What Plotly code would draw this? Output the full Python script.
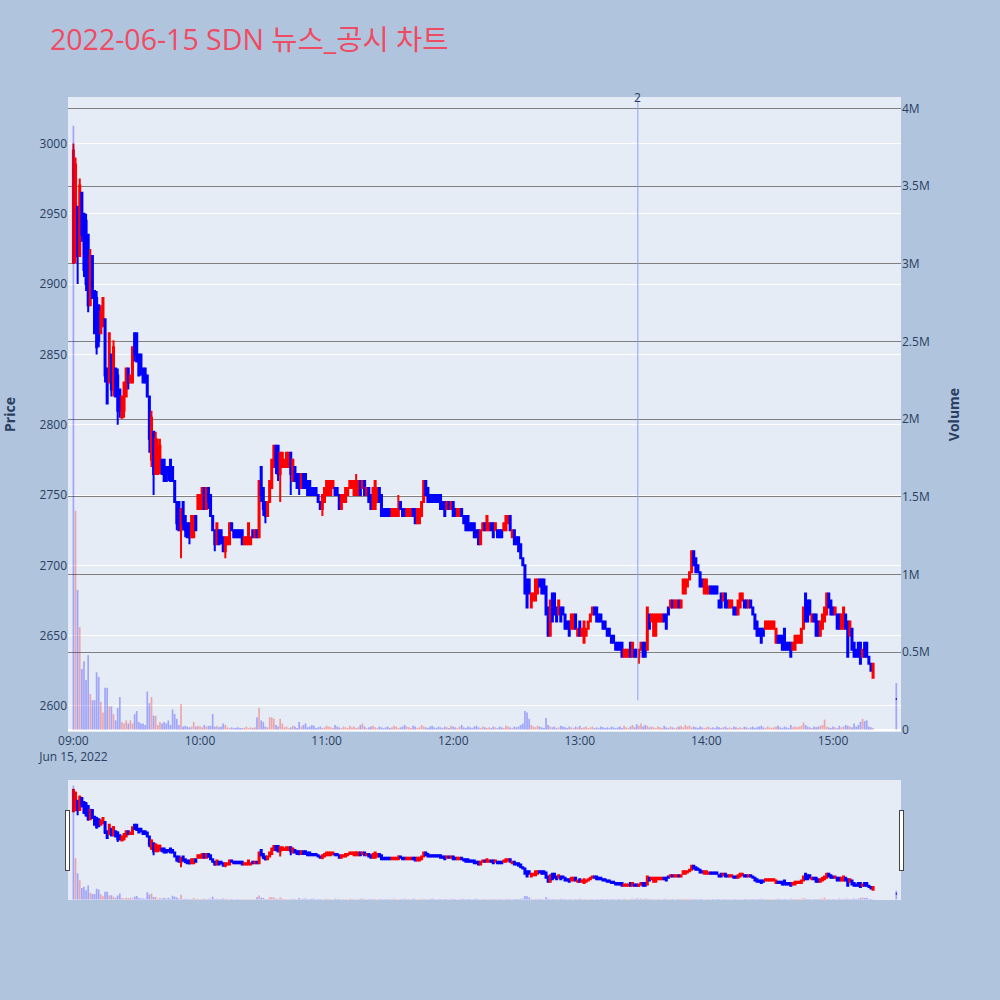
import pandas as pd
import plotly.graph_objects as go
from plotly.subplots import make_subplots

# ---------------- data (1-minute bars, 2022-06-15) ----------------
opens = [
    # 09:00 - 10:36
    2915,2920,2955,2920,2965,2950,2945,2935,2885,2920,
    2895,2890,2885,2865,2870,2875,2840,2830,2850,2825,
    2840,2835,2825,2805,2810,2820,2840,2830,2830,2865,
    2865,2850,2850,2840,2840,2835,2820,2775,2795,2765,
    2765,2770,2775,2775,2770,2770,2775,2770,2760,2745,
    2745,2725,2745,2735,2730,2730,2720,2720,2735,2740,
    2740,2740,2755,2740,2755,2750,2735,2725,2715,2725,
    2725,2720,2710,2715,2715,2730,2725,2725,2725,2725,
    2725,2715,2715,2715,2715,2725,2720,2725,2720,2770,
    2755,2745,2735,2745,2755,2770,2785,
    # 10:37 - 12:16
    2785,2765,2770,2770,2770,2770,2780,2760,2770,2765,
    2765,2755,2765,2765,2760,2760,2755,2755,2755,2750,
    2745,2740,2745,2750,2750,2750,2755,2755,2755,2750,
    2740,2745,2745,2750,2755,2755,2750,2750,2750,2760,
    2755,2760,2750,2755,2750,2740,2740,2745,2755,2750,
    2740,2740,2740,2740,2735,2735,2735,2735,2745,2740,
    2740,2735,2735,2735,2740,2740,2730,2730,2735,2745,
    2760,2755,2750,2750,2750,2750,2750,2750,2745,2745,
    2740,2745,2740,2745,2740,2735,2735,2740,2735,2735,
    2735,2730,2730,2730,2725,2725,2715,2725,2730,2725,
    # 12:17 - 13:56
    2725,2730,2730,2725,2725,2725,2725,2725,2725,2730,
    2735,2720,2725,2720,2720,2715,2705,2700,2690,2690,
    2670,2675,2675,2680,2690,2690,2690,2685,2670,2650,
    2680,2680,2670,2665,2670,2670,2665,2660,2660,2655,
    2655,2665,2650,2660,2650,2645,2650,2655,2660,2665,
    2670,2670,2665,2665,2660,2660,2655,2655,2650,2650,
    2645,2645,2645,2645,2635,2635,2635,2645,2635,2640,
    2640,2635,2640,2645,2645,2640,2665,2660,2650,2650,
    2660,2660,2660,2665,2665,2670,2670,2675,2670,2670,
    2675,2670,2680,2680,2685,2690,2695,2710,2705,2700,
    # 13:57 - 15:19
    2695,2690,2680,2680,2680,2685,2685,2685,2685,2675,
    2680,2675,2680,2675,2670,2670,2670,2670,2665,2670,
    2675,2675,2675,2670,2675,2670,2665,2660,2655,2655,
    2655,2655,2655,2655,2655,2655,2645,2650,2650,2650,
    2655,2645,2645,2645,2640,2640,2645,2645,2645,2655,
    2680,2675,2675,2660,2665,2665,2660,2650,2655,2660,
    2665,2680,2675,2670,2665,2665,2665,2655,2655,2665,
    2660,2650,2655,2645,2640,2645,2645,2635,2645,2645,
    2635,2630,2620,
    # 15:30 closing auction
    2605,
]
highs = [
    3000,2990,2955,2975,2965,2950,2950,2935,2925,2920,
    2895,2895,2885,2885,2890,2875,2840,2865,2850,2860,
    2840,2840,2825,2820,2830,2840,2840,2835,2855,2865,
    2865,2850,2850,2840,2840,2835,2820,2810,2795,2795,
    2790,2790,2775,2775,2770,2770,2775,2770,2760,2745,
    2745,2740,2745,2735,2730,2730,2735,2735,2735,2750,
    2750,2755,2755,2755,2755,2750,2735,2725,2730,2725,
    2725,2720,2720,2720,2730,2730,2725,2725,2725,2725,
    2725,2720,2720,2730,2720,2725,2725,2725,2760,2770,
    2755,2745,2745,2760,2775,2785,2785,
    2785,2780,2780,2775,2780,2780,2780,2775,2770,2765,
    2765,2765,2765,2765,2760,2760,2755,2755,2755,2750,
    2745,2750,2755,2760,2760,2760,2760,2755,2755,2750,
    2750,2750,2755,2755,2760,2760,2760,2765,2760,2760,
    2760,2760,2755,2755,2750,2755,2760,2755,2755,2750,
    2740,2740,2740,2740,2740,2740,2740,2750,2745,2740,
    2740,2740,2740,2740,2740,2740,2740,2740,2745,2760,
    2760,2755,2750,2750,2750,2750,2750,2750,2745,2745,
    2745,2745,2745,2745,2740,2740,2740,2740,2735,2735,
    2735,2730,2730,2730,2725,2725,2725,2730,2730,2735,
    2730,2730,2730,2730,2725,2725,2725,2730,2735,2735,
    2735,2725,2725,2720,2720,2715,2705,2700,2690,2690,
    2680,2680,2690,2690,2690,2690,2690,2685,2670,2675,
    2680,2680,2670,2675,2670,2670,2665,2660,2660,2665,
    2665,2665,2655,2660,2655,2660,2655,2660,2665,2670,
    2670,2670,2665,2665,2660,2660,2655,2655,2650,2650,
    2645,2645,2645,2645,2640,2640,2640,2645,2645,2640,
    2640,2640,2645,2645,2645,2670,2665,2665,2665,2665,
    2665,2665,2665,2665,2665,2670,2675,2675,2675,2675,
    2675,2675,2690,2690,2690,2695,2710,2710,2705,2700,
    2695,2690,2690,2690,2685,2685,2685,2685,2685,2675,
    2680,2680,2680,2675,2675,2675,2670,2670,2675,2680,
    2680,2675,2675,2675,2675,2670,2665,2660,2655,2655,
    2655,2660,2660,2660,2660,2660,2655,2650,2650,2650,
    2655,2645,2645,2645,2645,2650,2650,2650,2655,2670,
    2680,2675,2675,2665,2665,2665,2660,2660,2665,2670,
    2680,2680,2675,2670,2670,2665,2665,2665,2670,2665,
    2660,2660,2655,2645,2640,2645,2645,2640,2645,2645,
    2635,2630,2630,
    2605,
]
lows = [
    2915,2915,2900,2920,2930,2905,2895,2880,2885,2890,
    2865,2850,2855,2865,2870,2830,2815,2830,2820,2820,
    2820,2800,2805,2805,2805,2820,2825,2830,2830,2845,
    2845,2835,2835,2830,2830,2820,2780,2770,2750,2765,
    2765,2765,2765,2760,2760,2760,2760,2760,2745,2725,
    2725,2705,2725,2720,2720,2715,2720,2720,2725,2740,
    2740,2740,2740,2740,2740,2735,2725,2710,2715,2715,
    2715,2710,2705,2715,2715,2725,2720,2720,2720,2720,
    2715,2715,2715,2715,2715,2720,2720,2720,2720,2745,
    2735,2730,2735,2745,2755,2770,2765,
    2760,2745,2770,2770,2770,2770,2750,2760,2760,2755,
    2750,2755,2755,2755,2750,2750,2750,2750,2750,2745,
    2740,2735,2745,2750,2750,2750,2755,2750,2750,2740,
    2740,2745,2745,2750,2755,2755,2750,2750,2750,2750,
    2755,2750,2750,2745,2740,2740,2740,2745,2745,2735,
    2735,2735,2735,2735,2735,2735,2735,2735,2740,2735,
    2735,2735,2735,2735,2735,2730,2730,2730,2735,2745,
    2750,2745,2745,2745,2745,2745,2745,2740,2740,2735,
    2740,2740,2740,2735,2735,2735,2735,2735,2730,2725,
    2725,2725,2725,2720,2720,2715,2715,2725,2725,2725,
    2725,2725,2720,2725,2720,2720,2720,2725,2725,2730,
    2725,2720,2715,2715,2710,2705,2700,2680,2670,2680,
    2670,2675,2675,2680,2685,2680,2680,2665,2650,2650,
    2660,2665,2660,2665,2660,2665,2655,2655,2650,2655,
    2655,2655,2650,2650,2650,2645,2650,2655,2660,2665,
    2665,2660,2660,2660,2655,2655,2650,2650,2645,2645,
    2640,2640,2640,2635,2635,2635,2635,2635,2635,2635,
    2635,2630,2640,2635,2635,2640,2655,2660,2650,2650,
    2660,2660,2660,2660,2655,2665,2670,2670,2670,2670,
    2670,2670,2680,2680,2685,2690,2695,2700,2695,2695,
    2685,2685,2680,2680,2680,2680,2680,2680,2680,2670,
    2670,2675,2670,2670,2670,2670,2665,2665,2665,2670,
    2675,2670,2670,2670,2670,2665,2655,2650,2650,2645,
    2650,2655,2655,2655,2655,2655,2645,2645,2645,2640,
    2640,2640,2640,2635,2640,2640,2645,2645,2645,2655,
    2660,2660,2665,2660,2660,2650,2650,2650,2655,2660,
    2665,2670,2665,2665,2665,2655,2655,2655,2655,2655,
    2635,2650,2640,2635,2635,2635,2630,2635,2635,2635,
    2630,2625,2620,
    2605,
]
closes = [
    2995,2985,2920,2970,2935,2910,2900,2885,2920,2890,
    2865,2855,2860,2880,2890,2835,2815,2865,2825,2855,
    2820,2810,2810,2820,2830,2840,2830,2835,2855,2850,
    2845,2835,2840,2830,2830,2820,2790,2805,2765,2790,
    2785,2785,2765,2760,2760,2765,2760,2760,2745,2730,
    2725,2740,2730,2725,2720,2720,2735,2735,2725,2750,
    2750,2755,2740,2755,2745,2735,2725,2715,2730,2715,
    2720,2710,2720,2720,2730,2725,2720,2720,2720,2720,
    2715,2720,2720,2730,2720,2720,2725,2720,2760,2750,
    2740,2735,2745,2760,2775,2785,2770,
    2765,2780,2780,2775,2780,2780,2765,2775,2760,2755,
    2755,2765,2755,2755,2750,2750,2750,2750,2750,2745,
    2740,2750,2755,2760,2760,2760,2760,2750,2750,2740,
    2750,2750,2755,2755,2760,2760,2760,2760,2760,2750,
    2760,2750,2755,2745,2740,2755,2760,2755,2745,2735,
    2735,2735,2735,2735,2740,2740,2740,2740,2740,2735,
    2735,2740,2740,2740,2735,2730,2740,2740,2745,2760,
    2750,2745,2745,2745,2745,2745,2745,2740,2740,2735,
    2745,2740,2745,2735,2735,2740,2740,2735,2730,2725,
    2725,2725,2725,2720,2720,2715,2725,2730,2725,2735,
    2730,2725,2720,2730,2720,2720,2720,2730,2735,2735,
    2725,2725,2715,2715,2710,2705,2700,2680,2670,2680,
    2680,2680,2690,2690,2685,2680,2680,2665,2650,2675,
    2660,2665,2660,2675,2660,2665,2655,2655,2650,2665,
    2665,2655,2655,2650,2655,2660,2655,2660,2665,2670,
    2665,2660,2660,2660,2655,2655,2650,2650,2645,2645,
    2640,2640,2640,2635,2640,2640,2640,2635,2645,2635,
    2635,2640,2645,2635,2635,2670,2655,2665,2665,2665,
    2665,2665,2665,2660,2655,2665,2675,2670,2675,2675,
    2670,2675,2690,2690,2690,2695,2710,2700,2695,2695,
    2685,2685,2690,2690,2685,2680,2680,2680,2680,2670,
    2670,2680,2670,2670,2675,2675,2665,2665,2675,2680,
    2680,2670,2670,2675,2670,2665,2655,2650,2650,2645,
    2650,2660,2660,2660,2660,2660,2655,2645,2645,2640,
    2640,2640,2640,2635,2645,2650,2650,2650,2655,2670,
    2660,2660,2665,2665,2660,2650,2650,2660,2665,2670,
    2680,2670,2665,2665,2670,2655,2655,2665,2670,2655,
    2635,2660,2640,2635,2635,2635,2630,2640,2635,2635,
    2630,2625,2630,
    2605,
]
# volume in thousands of shares
volumes_k = [
    3890,1410,900,660,390,440,320,480,230,190,
    190,370,340,180,110,270,270,150,150,100,
    60,140,210,50,40,60,40,60,40,100,
    120,50,40,40,30,245,170,210,90,90,
    30,50,40,50,40,60,30,130,100,70,
    30,165,20,25,20,15,20,50,20,25,
    20,15,30,20,25,25,100,20,25,15,
    20,40,30,15,10,15,10,12,15,10,
    10,12,20,10,15,10,15,80,140,60,
    50,20,15,80,80,70,30,
    20,70,40,15,20,10,15,25,20,10,
    50,20,30,40,15,20,30,25,10,15,
    20,10,15,25,20,15,10,30,20,15,
    10,20,15,10,25,15,20,10,15,30,
    40,20,10,15,20,25,15,10,20,15,
    10,15,20,10,15,25,20,10,15,20,
    30,20,15,10,25,20,10,15,30,20,
    15,10,20,25,15,10,20,15,10,20,
    15,10,25,20,15,10,20,30,15,10,
    20,15,10,20,25,15,10,20,15,10,
    15,10,20,15,10,20,15,10,25,20,
    15,10,20,15,20,30,40,120,110,70,
    30,20,15,25,20,15,10,75,30,20,
    15,20,10,15,25,20,15,10,20,15,
    10,20,15,25,10,15,20,10,15,20,
    10,15,10,20,15,10,15,10,20,15,
    10,15,20,10,25,15,10,20,30,15,
    35,25,40,20,30,25,15,20,15,10,
    20,15,10,25,15,10,20,15,10,15,
    20,25,15,30,20,25,15,20,15,10,
    20,15,10,15,20,10,15,10,20,15,
    10,15,20,10,15,10,20,15,10,15,
    10,20,15,10,15,20,10,15,20,25,
    15,10,20,15,10,15,20,25,15,10,
    20,15,10,30,15,20,15,20,25,47,
    30,20,15,10,20,15,20,25,30,65,
    20,15,10,20,15,10,25,15,20,30,
    25,20,15,40,20,30,50,70,55,60,
    20,15,10,
    300,
]
session_start = "2022-06-15 09:00"
n_regular = 380
closing_auction = "2022-06-15 15:30"
news_time = "2022-06-15 13:27:30"
news_label = "2"
title_text = "2022-06-15 SDN 뉴스_공시 차트"
x_view = ["2022-06-15 08:57:26", "2022-06-15 15:32:14"]
price_view = [2581.5, 3033]
volume_view = [-15000, 4075000]

times = pd.date_range(session_start, periods=n_regular, freq="min").append(
    pd.DatetimeIndex([closing_auction]))
volumes = [v * 1000 for v in volumes_k]

UP = "red"
DOWN = "blue"
vol_colors = ["rgba(255,0,0,0.3)" if c > o else "rgba(0,0,255,0.3)"
              for o, c in zip(opens, closes)]
vol_colors[0] = "rgba(0,0,255,0.3)"

fig = make_subplots(specs=[[{"secondary_y": True}]])
fig.add_trace(go.Candlestick(
    x=times, open=opens, high=highs, low=lows, close=closes,
    increasing=dict(line=dict(color=UP, width=2), fillcolor=UP),
    decreasing=dict(line=dict(color=DOWN, width=2), fillcolor=DOWN),
    name="Price", showlegend=False), secondary_y=False)
fig.add_trace(go.Bar(
    x=times, y=volumes, marker=dict(color=vol_colors, line=dict(width=0)),
    name="Volume", showlegend=False), secondary_y=True)

fig.add_shape(type="line", xref="x", yref="paper", x0=news_time, x1=news_time,
              y0=0.05, y1=1, line=dict(color="#8AA6F0", width=1))
fig.add_annotation(x=news_time, y=1, xref="x", yref="paper", text=news_label,
                   showarrow=False, yanchor="middle", xanchor="center",
                   font=dict(size=12, color="#2a3f5f"))

fig.update_layout(
    width=1000, height=1000,
    paper_bgcolor="#B0C4DE", plot_bgcolor="#E5ECF6",
    margin=dict(l=68, r=99, t=97, b=100),
    title=dict(text=title_text, x=0.05, xanchor="left", y=0.96, yanchor="middle",
               font=dict(size=28.5, color="#EF4B63",
                         family="Open Sans, Noto Sans CJK KR, sans-serif")),
    showlegend=False,
    bargap=0.2,
)
fig.update_xaxes(domain=[0, 1], automargin=False, range=x_view,
                 rangeslider=dict(visible=True, bgcolor="#E5ECF6", thickness=0.15,
                                  range=x_view))
fig.update_yaxes(title=dict(text="<b>Price</b>", standoff=22), range=price_view,
                 dtick=50, automargin=False, secondary_y=False)
fig.update_yaxes(title=dict(text="<b>Volume</b>", standoff=20), range=volume_view,
                 showgrid=True, gridcolor="gray", automargin=False,
                 secondary_y=True)

fig.write_html("out.html", config={"displayModeBar": False},
               post_script="document.body.style.margin='0';")
